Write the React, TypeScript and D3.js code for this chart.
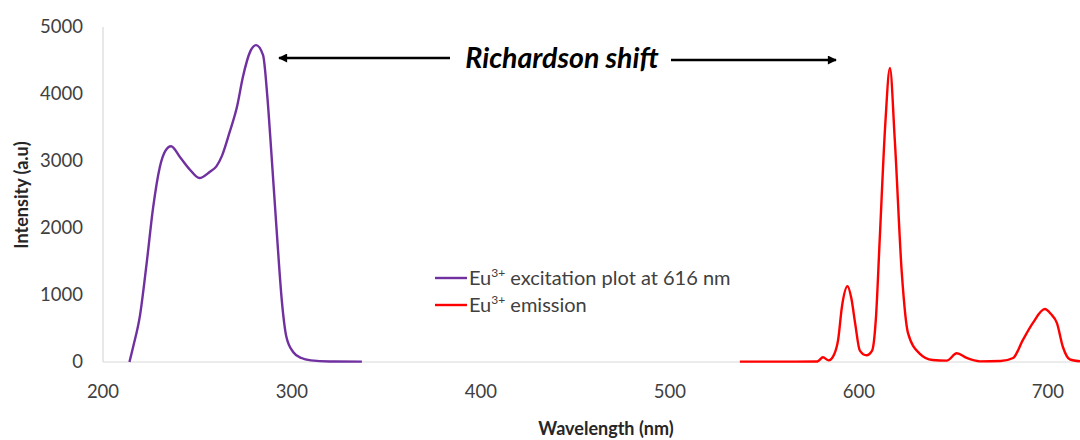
import React from "react";
import * as d3 from "d3";

const xTicks = [200, 300, 400, 500, 600, 700];
const yTicks = [0, 1000, 2000, 3000, 4000, 5000];

const excitationWavelength = [214, 216, 219.6, 223, 226.5, 230, 233, 236, 240.7, 246, 251, 256.6, 260, 263, 267, 271, 274, 278, 281, 284.7, 287, 289, 292, 294.6, 297, 300.6, 305, 310, 320, 337];
const excitationIntensity = [0, 230, 700, 1450, 2300, 2900, 3150, 3220, 3060, 2870, 2746, 2840, 2920, 3080, 3430, 3820, 4250, 4640, 4730, 4580, 3950, 3160, 1920, 925, 380, 150, 60, 25, 8, 5];

const emissionWavelength = [537, 560, 578, 581, 584, 587, 589, 591, 594, 596, 598, 600.5, 604, 607, 609, 611, 614, 616.4, 619, 622.7, 626, 632, 639, 646.5, 651.8, 657, 664, 675, 681.6, 686.8, 692, 698.4, 701.5, 704.8, 708, 711.6, 717];
const emissionIntensity = [5, 5, 8, 70, 25, 120, 330, 820, 1130, 950, 580, 170, 100, 170, 650, 1820, 3570, 4390, 3310, 1330, 430, 130, 30, 20, 130, 60, 10, 15, 60, 330, 580, 790, 720, 580, 220, 40, 10];

const legendItems = ["excitation plot at 616 nm", "emission"];
const seriesColors = ["#7030A0", "#FF0000"];

export default function App() {
  const W = 1080, H = 440;
  const x = d3.scaleLinear().domain([200, 717]).range([103, 1080]);
  const y = d3.scaleLinear().domain([0, 5000]).range([362, 27]);
  const line = d3.line<[number, number]>().x(d => x(d[0])).y(d => y(d[1])).curve(d3.curveMonotoneX);
  const exc = excitationWavelength.map((w, i) => [w, excitationIntensity[i]] as [number, number]);
  const em = emissionWavelength.map((w, i) => [w, emissionIntensity[i]] as [number, number]);
  const font = "Lato, 'Open Sans', sans-serif";
  return (
    <svg width={W} height={H} style={{ position: "absolute", left: 0, top: 0, background: "#fff" }} fontFamily={font}>
      <defs>
        <marker id="ah" viewBox="0 0 10 10" refX="9" refY="5" markerWidth="11" markerHeight="9" markerUnits="userSpaceOnUse" orient="auto-start-reverse">
          <path d="M0,0 L10,5 L0,10 z" fill="#000" />
        </marker>
      </defs>
      <line x1={x(200)} x2={W} y1={y(0)} y2={y(0)} stroke="#d9d9d9" strokeWidth={1.2} />
      <line x1={x(200)} x2={x(200)} y1={y(5000)} y2={y(0)} stroke="#d9d9d9" strokeWidth={1.2} />
      {yTicks.map(t => (
        <text key={t} x={83} y={y(t)} dy="0.35em" textAnchor="end" fontSize={18.5} fill="#404040">{t}</text>
      ))}
      {xTicks.map(t => (
        <text key={t} x={x(t)} y={392} dy="0.35em" textAnchor="middle" fontSize={18.5} fill="#404040">{t}</text>
      ))}
      <text transform="translate(22,195) rotate(-90)" textAnchor="middle" dy="0.35em" fontSize={18} fontWeight="bold" fill="#262626">Intensity (a.u)</text>
      <text x={606} y={429} textAnchor="middle" dy="0.35em" fontSize={18} fontWeight="bold" fill="#262626">Wavelength (nm)</text>
      <path d={line(exc) || ""} fill="none" stroke={seriesColors[0]} strokeWidth={2.4} />
      <path d={line(em) || ""} fill="none" stroke={seriesColors[1]} strokeWidth={2.4} />
      <line x1={450} x2={279} y1={58} y2={58} stroke="#000" strokeWidth={2.5} markerEnd="url(#ah)" />
      <line x1={671} x2={836} y1={60} y2={60} stroke="#000" strokeWidth={2.5} markerEnd="url(#ah)" />
      <text x={562} y={58} dy="0.35em" textAnchor="middle" fontSize={28.5} fontWeight="bold" fontStyle="italic" fill="#000">Richardson shift</text>
      {legendItems.map((l, i) => (
        <g key={l} transform={`translate(435,${278 + i * 27})`}>
          <line x1={0} x2={32} y1={0} y2={0} stroke={seriesColors[i]} strokeWidth={2.4} />
          <text x={34} y={7} fontSize={20} fill="#404040">
            Eu<tspan fontSize={12} dy={-8}>3+</tspan><tspan dy={8}> {l}</tspan>
          </text>
        </g>
      ))}
    </svg>
  );
}
